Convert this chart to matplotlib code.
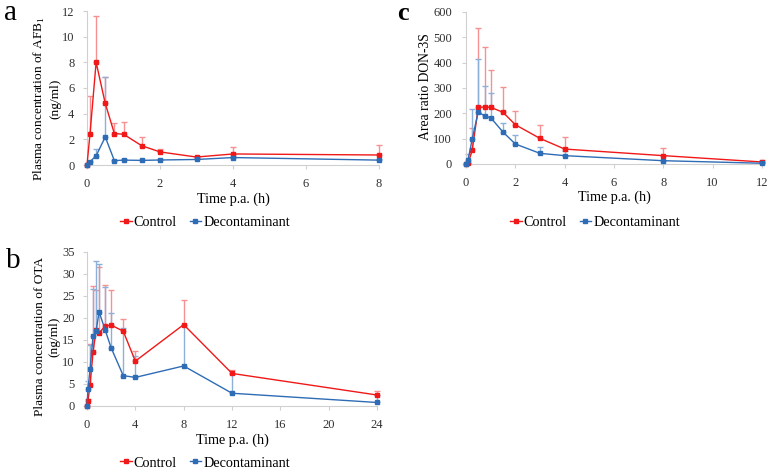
import matplotlib
matplotlib.use("Agg")
import matplotlib.pyplot as plt
import numpy as np

plt.rcParams['font.family'] = ['Liberation Serif', 'DejaVu Serif']
plt.rcParams['mathtext.fontset'] = 'custom'
plt.rcParams['mathtext.rm'] = 'Liberation Serif'

# panel a: AFB1
t_a = [0, 0.083, 0.25, 0.5, 0.75, 1, 1.5, 2, 3, 4, 8]
ctrl_a = [0, 2.45, 8.0, 4.8, 2.45, 2.4, 1.5, 1.02, 0.62, 0.86, 0.78]
ctrl_a_sd = [0, 2.9, 3.6, 2.05, 0.85, 0.95, 0.7, 0.2, 0.1, 0.57, 0.78]
dec_a = [0, 0.26, 0.72, 2.18, 0.34, 0.38, 0.36, 0.39, 0.43, 0.58, 0.38]
dec_a_sd = [0, 0.05, 0.53, 4.67, 0.05, 0.05, 0.05, 0.05, 0.05, 0.1, 0.05]

# panel b: OTA
t_b = [0, 0.083, 0.25, 0.5, 0.75, 1, 1.5, 2, 3, 4, 8, 12, 24]
ctrl_b = [0, 1.2, 4.7, 12.2, 17.2, 16.6, 18.2, 18.4, 17.0, 10.2, 18.5, 7.4, 2.5]
ctrl_b_sd = [0, 0.3, 9.4, 15.1, 9.1, 15.1, 9.4, 8.0, 2.8, 2.3, 5.7, 0.8, 1.0]
dec_b = [0, 3.9, 8.3, 15.8, 17.0, 21.4, 17.3, 13.2, 6.9, 6.5, 9.1, 2.9, 0.8]
dec_b_sd = [0, 1.8, 5.5, 10.9, 16.0, 10.9, 9.7, 7.9, 10.8, 4.8, 9.2, 4.4, 1.7]

# panel c: DON-3S
t_c = [0, 0.083, 0.25, 0.5, 0.75, 1, 1.5, 2, 3, 4, 8, 12]
ctrl_c = [0, 2, 54, 224, 225, 224, 204, 155, 101, 59, 33, 8]
ctrl_c_sd = [0, 2, 90, 311, 235, 146, 99, 56, 54, 46, 30, 8]
dec_c = [0, 16, 98, 207, 189, 183, 126, 79, 42, 33, 13, 3]
dec_c_sd = [0, 23, 121, 207, 119, 97, 35, 36, 25, 19, 2, 3]

red = '#F01818'
blue = '#2E6CB5'
red_err = '#F79090'
blue_err = '#8DB0DA'
grey = '#D0D0D0'

fig = plt.figure(figsize=(7.7, 4.74), dpi=100)
W, H = 770, 474


def px_axes(l, t, r, b):
    return fig.add_axes([l / W, 1 - b / H, (r - l) / W, (b - t) / H])


def draw(ax, t, c, csd, d, dsd):
    t = np.array(t)
    for y, sd, col in [(c, csd, red_err), (d, dsd, blue_err)]:
        y = np.array(y)
        sd = np.array(sd)
        ax.errorbar(t, y, yerr=[np.zeros_like(sd), sd], fmt='none', ecolor=col,
                    elinewidth=1.0, capsize=2, capthick=1.0, zorder=2, clip_on=False)
    ax.plot(t, c, color=red, lw=1.0, marker='s', ms=2.6, label='Control', zorder=3, clip_on=False)
    ax.plot(t, d, color=blue, lw=1.0, marker='s', ms=2.6, label='Decontaminant', zorder=4, clip_on=False)
    for s in ['top', 'right']:
        ax.spines[s].set_visible(False)
    for s in ['left', 'bottom']:
        ax.spines[s].set_color(grey)
        ax.spines[s].set_linewidth(0.8)
    ax.tick_params(axis='both', color=grey, length=3, labelsize=9, labelcolor='#303030')
    ax.tick_params(axis='x', pad=6)
    ax.tick_params(axis='y', pad=6)


ax_a = px_axes(87, 11, 379, 165)
draw(ax_a, t_a, ctrl_a, ctrl_a_sd, dec_a, dec_a_sd)
ax_a.set_xlim(0, 8)
ax_a.set_ylim(0, 12)
ax_a.set_xticks([0, 2, 4, 6, 8])
ax_a.set_yticks(range(0, 13, 2))
ax_a.set_ylabel('Plasma concentration of AFB$_\\mathrm{1}$\n(ng/ml)', fontsize=9.6,
                linespacing=1.25)
ax_a.yaxis.set_label_coords(-0.137, 0.43)

ax_b = px_axes(87, 252, 377, 406)
draw(ax_b, t_b, ctrl_b, ctrl_b_sd, dec_b, dec_b_sd)
ax_b.set_xlim(0, 24)
ax_b.set_ylim(0, 35)
ax_b.set_xticks(range(0, 25, 4))
ax_b.set_yticks(range(0, 36, 5))
ax_b.set_ylabel('Plasma concentration of OTA\n(ng/ml)', fontsize=9.6, linespacing=1.25)
ax_b.yaxis.set_label_coords(-0.137, 0.45)

ax_c = px_axes(466, 12, 762, 164)
draw(ax_c, t_c, ctrl_c, ctrl_c_sd, dec_c, dec_c_sd)
ax_c.set_xlim(0, 12)
ax_c.set_ylim(0, 600)
ax_c.set_xticks(range(0, 13, 2))
ax_c.set_yticks(range(0, 601, 100))
ax_c.tick_params(axis='y', pad=7)
ax_c.set_ylabel('Area ratio DON-3S', fontsize=9.8)
ax_c.yaxis.set_label_coords(-0.138, 0.51)

for ax in [ax_a, ax_b, ax_c]:
    ax.yaxis.label.set_va('center')
    ax.set_xlabel('Time p.a. (h)', fontsize=10.2)
    ax.xaxis.set_label_coords(0.5, -0.22)
    ax.xaxis.label.set_va('center')

# legends
handles, labels = ax_a.get_legend_handles_labels()
for cx, cy in [(205, 222), (205, 463), (595, 222)]:
    fig.legend(handles, labels, loc='center', bbox_to_anchor=(cx / W, 1 - cy / H),
               ncol=2, frameon=False, fontsize=10.3, handlelength=0.8,
               handletextpad=0.15, columnspacing=0.9, borderpad=0, borderaxespad=0)

# panel letters
fig.text(4 / W, 1 - 20 / H, 'a', fontsize=21, va='baseline')
fig.text(6 / W, 1 - 268 / H, 'b', fontsize=21, va='baseline')
fig.text(397 / W, 1 - 20 / H, 'c', fontsize=19, fontweight='bold', va='baseline')

fig.savefig('out.png', dpi=100)
